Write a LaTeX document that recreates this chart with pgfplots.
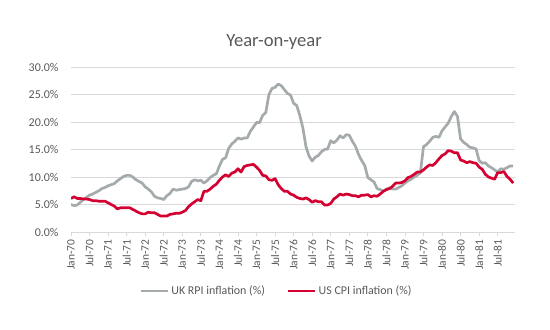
\documentclass[border=0pt]{standalone}
\usepackage{pgfplots}
\pgfplotsset{compat=1.18}
\usepackage{pgfplotstable}
\usepackage{fontspec}
\setmainfont{Carlito}
\definecolor{ukgray}{RGB}{165,170,173}
\definecolor{usred}{RGB}{212,0,50}
\definecolor{txtgray}{RGB}{89,89,89}
\definecolor{gridgray}{RGB}{217,217,217}
\pgfplotstableread{
m uk us
0 5.0 6.1
1 4.8 6.4
2 4.9 6.1
3 5.4 6.1
4 5.9 6.0
5 6.3 6.0
6 6.7 5.9
7 6.9 5.7
8 7.2 5.7
9 7.5 5.6
10 7.9 5.6
11 8.1 5.6
12 8.4 5.3
13 8.6 5.0
14 8.8 4.7
15 9.3 4.2
16 9.7 4.4
17 10.1 4.4
18 10.3 4.4
19 10.3 4.4
20 10.0 4.1
21 9.5 3.8
22 9.2 3.5
23 8.9 3.3
24 8.2 3.3
25 7.8 3.6
26 7.3 3.5
27 6.5 3.5
28 6.2 3.2
29 6.1 2.9
30 5.9 2.9
31 6.6 2.9
32 7.0 3.2
33 7.8 3.3
34 7.6 3.4
35 7.7 3.4
36 7.8 3.6
37 7.9 3.9
38 8.2 4.6
39 9.2 5.1
40 9.5 5.5
41 9.3 5.9
42 9.4 5.7
43 8.9 7.4
44 9.3 7.4
45 9.9 7.8
46 10.3 8.3
47 10.6 8.7
48 12.0 9.4
49 13.2 10.0
50 13.5 10.4
51 15.2 10.1
52 16.0 10.7
53 16.5 10.9
54 17.1 11.5
55 16.9 10.9
56 17.1 11.9
57 17.1 12.1
58 18.3 12.2
59 19.1 12.3
60 19.9 11.8
61 19.9 11.2
62 21.2 10.3
63 21.7 10.2
64 25.0 9.5
65 26.1 9.4
66 26.3 9.7
67 26.9 8.6
68 26.6 7.9
69 25.9 7.4
70 25.2 7.4
71 24.9 6.9
72 23.4 6.7
73 23.0 6.3
74 21.2 6.1
75 18.9 6.0
76 15.5 6.2
77 13.8 5.9
78 12.9 5.4
79 13.6 5.7
80 13.9 5.5
81 14.6 5.5
82 15.0 4.9
83 15.1 4.9
84 16.6 5.2
85 16.2 6.0
86 16.7 6.4
87 17.5 6.9
88 17.1 6.7
89 17.7 6.9
90 17.6 6.8
91 16.5 6.6
92 15.6 6.6
93 14.1 6.4
94 13.0 6.7
95 12.1 6.7
96 9.9 6.8
97 9.5 6.4
98 9.1 6.6
99 7.9 6.5
100 7.7 6.9
101 7.4 7.4
102 7.8 7.7
103 8.0 7.9
104 7.8 8.3
105 7.8 8.9
106 8.1 8.9
107 8.4 9.0
108 8.9 9.3
109 9.3 9.9
110 9.6 10.1
111 10.0 10.5
112 10.3 10.9
113 10.8 10.9
114 15.5 11.3
115 15.9 11.8
116 16.5 12.2
117 17.2 12.1
118 17.4 12.6
119 17.2 13.3
120 18.4 13.9
121 19.1 14.2
122 19.8 14.8
123 21.0 14.7
124 21.9 14.4
125 21.0 14.4
126 16.9 13.1
127 16.3 12.9
128 15.9 12.6
129 15.4 12.8
130 15.3 12.6
131 15.1 12.5
132 13.0 11.8
133 12.5 11.4
134 12.6 10.5
135 12.0 10.0
136 11.7 9.8
137 11.3 9.6
138 10.9 10.8
139 11.5 10.8
140 11.4 11.0
141 11.7 10.1
142 12.0 9.6
143 12.0 8.9
}\datatable
\begin{document}
\begin{tikzpicture}
\path[use as bounding box] (0,0) rectangle (550bp,330bp);
\node[text=txtgray, font=\fontsize{18.67}{22}\selectfont] at (274bp,288bp) {Year-on-year};
\begin{axis}[
  at={(71bp,98bp)}, anchor=south west,
  scale only axis, width=444bp, height=165bp,
  xmin=0, xmax=143.6, ymin=0, ymax=30,
  axis x line*=bottom, axis y line*=left,
  y axis line style={draw=none},
  x axis line style={draw=gridgray, line width=0.75bp},
  xtick={0,6,...,138},
  xticklabels={Jan-70,Jul-70,Jan-71,Jul-71,Jan-72,Jul-72,Jan-73,Jul-73,Jan-74,Jul-74,Jan-75,Jul-75,Jan-76,Jul-76,Jan-77,Jul-77,Jan-78,Jul-78,Jan-79,Jul-79,Jan-80,Jul-80,Jan-81,Jul-81},
  xticklabel style={rotate=90, anchor=east, font=\fontsize{11.5}{13}\selectfont, text=txtgray},
  x tick style={draw=gridgray, line width=0.75bp},
  tick align=outside, major tick length=4bp,
  ytick={0,5,...,30},
  yticklabels={0.0\%,5.0\%,10.0\%,15.0\%,20.0\%,25.0\%,30.0\%},
  yticklabel style={font=\fontsize{12}{14}\selectfont, text=txtgray, xshift=-5bp},
  y tick style={draw=none},
  ymajorgrids, grid style={draw=gridgray, line width=0.75bp},
  legend style={at={(0.463,-0.358)}, anchor=center, draw=none, fill=none,
    font=\fontsize{12}{14}\selectfont, text=txtgray,
    /tikz/every even column/.append style={column sep=20bp}},
  legend columns=2,
  legend image code/.code={\draw[#1] (0bp,0bp) -- (27bp,0bp);},
  every axis plot/.append style={line width=2.7bp, line join=round},
]
\addplot[ukgray, no markers] table[x=m, y=uk] {\datatable};
\addlegendentry{UK RPI inflation (\%)}
\addplot[usred, no markers] table[x=m, y=us] {\datatable};
\addlegendentry{US CPI inflation (\%)}
\end{axis}
\end{tikzpicture}
\end{document}
